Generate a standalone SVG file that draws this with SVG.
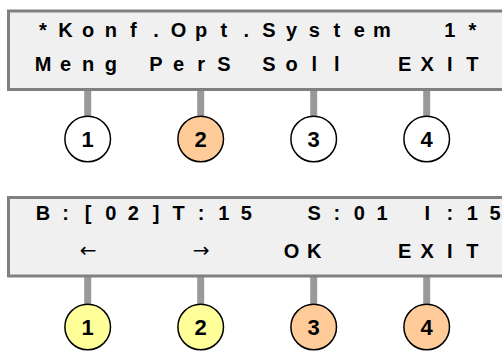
<svg xmlns="http://www.w3.org/2000/svg" width="502" height="351" viewBox="0 0 502 351">
<style>
.lcd{fill:#f0f0f0;stroke:#808080;stroke-width:3}
.t{font-family:"Liberation Sans",Arial,sans-serif;font-weight:bold;font-size:20px;fill:#000;text-anchor:middle}
.arr{font-family:"DejaVu Sans","Liberation Serif",serif;font-weight:normal;font-size:20px;fill:#000;text-anchor:middle}
.btn{stroke:#000;stroke-width:1.5}
.num{font-family:"Liberation Sans",Arial,sans-serif;font-weight:bold;font-size:22px;fill:#000;text-anchor:middle}
.stub{stroke:#999999;stroke-width:7}
.w{fill:#ffffff}.p{fill:#ffcc99}.y{fill:#ffff99}
</style>
<rect width="502" height="351" fill="#ffffff"/>
<g id="connectors">
<line class="stub" x1="87.7" y1="90" x2="87.7" y2="116"/>
<line class="stub" x1="200.7" y1="90" x2="200.7" y2="116"/>
<line class="stub" x1="313.7" y1="90" x2="313.7" y2="116"/>
<line class="stub" x1="426.7" y1="90" x2="426.7" y2="116"/>
<line class="stub" x1="87.7" y1="277" x2="87.7" y2="304"/>
<line class="stub" x1="200.7" y1="277" x2="200.7" y2="304"/>
<line class="stub" x1="313.7" y1="277" x2="313.7" y2="304"/>
<line class="stub" x1="426.7" y1="277" x2="426.7" y2="304"/>
</g>
<g id="display1">
<rect class="lcd" x="8.5" y="11" width="520" height="78.5"/>
<text class="t" x="43 65.6 88.2 110.8 133.4 156 178.6 201.2 223.8 246.4 269 291.6 314.2 336.8 359.4 382" y="36.5">*Konf.Opt.System</text>
<text class="t" x="449.8 472.4" y="36.5">1*</text>
<text class="t" x="43 65.6 88.2 110.8" y="71">Meng</text>
<text class="t" x="156 178.6 201.2 223.8" y="71">PerS</text>
<text class="t" x="269 291.6 314.2 336.8" y="71">Soll</text>
<text class="t" x="404.6 427.2 449.8 472.4" y="71">EXIT</text>
</g>
<g id="display2">
<rect class="lcd" x="8.5" y="197.5" width="520" height="78.5"/>
<text class="t" x="43 65.6 88.2 110.8 133.4 156 178.6 201.2 223.8 246.4" y="220">B:[02]T:15</text>
<text class="t" x="314.2 336.8 359.4 382" y="220">S:01</text>
<text class="t" x="427.2 449.8 472.4 495" y="220">I:15</text>
<text class="arr" x="88.2" y="257">←</text>
<text class="arr" x="201.2" y="257">→</text>
<text class="t" x="291.6 314.2" y="257.5">OK</text>
<text class="t" x="404.6 427.2 449.8 472.4" y="257.5">EXIT</text>
</g>
<g id="btn1-top"><circle class="btn w" cx="87.7" cy="139" r="22.8"/><text class="num" x="87.7" y="146.9">1</text></g>
<g id="btn2-top"><circle class="btn p" cx="200.7" cy="139" r="22.8"/><text class="num" x="200.7" y="146.9">2</text></g>
<g id="btn3-top"><circle class="btn w" cx="313.7" cy="139" r="22.8"/><text class="num" x="313.7" y="146.9">3</text></g>
<g id="btn4-top"><circle class="btn w" cx="426.7" cy="139" r="22.8"/><text class="num" x="426.7" y="146.9">4</text></g>
<g id="btn1-bottom"><circle class="btn y" cx="87.7" cy="327" r="22.8"/><text class="num" x="87.7" y="334.9">1</text></g>
<g id="btn2-bottom"><circle class="btn y" cx="200.7" cy="327" r="22.8"/><text class="num" x="200.7" y="334.9">2</text></g>
<g id="btn3-bottom"><circle class="btn p" cx="313.7" cy="327" r="22.8"/><text class="num" x="313.7" y="334.9">3</text></g>
<g id="btn4-bottom"><circle class="btn p" cx="426.7" cy="327" r="22.8"/><text class="num" x="426.7" y="334.9">4</text></g>
</svg>
